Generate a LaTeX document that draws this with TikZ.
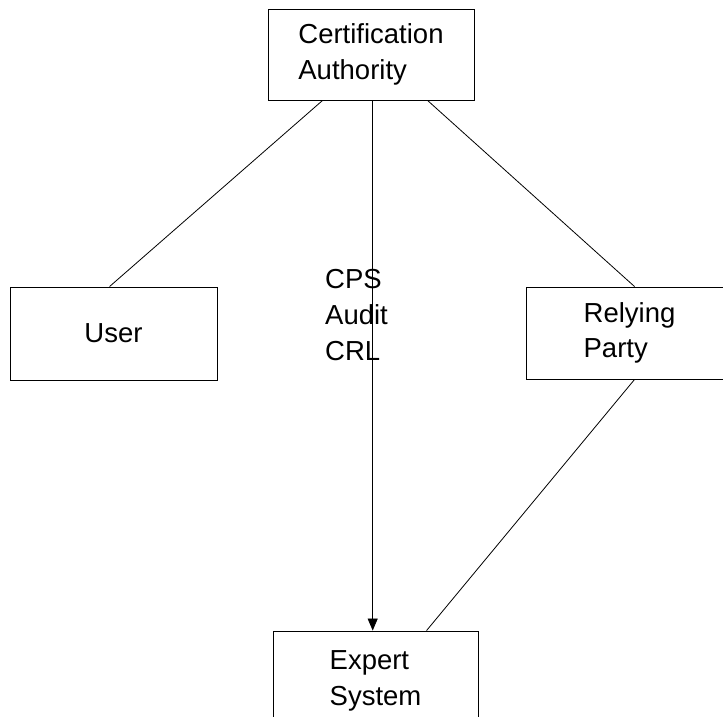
\documentclass[tikz,border=0pt]{standalone}
\usepackage{fontspec}
\setmainfont{Liberation Sans}
\usetikzlibrary{arrows.meta}
\begin{document}
\begin{tikzpicture}[x=1pt,y=-1pt,
  entity/.style={draw=black, line width=0.9pt, rectangle, inner sep=0pt,
    align=left, font=\fontsize{27.5}{35.5}\selectfont},
  link/.style={draw=black, line width=0.8pt},
  label/.style={align=left, font=\fontsize{27.5}{36}\selectfont, inner sep=0pt}]
  \useasboundingbox (0,0) rectangle (723,716);

  % boxes
  \node[entity, minimum width=206pt, minimum height=91pt] (ca) at (371,54.5)
    {Certification\\Authority};
  \node[entity, minimum width=207pt, minimum height=93pt] (user) at (113.5,333.5)
    {User};
  \node[entity, minimum width=207pt, minimum height=92pt] (rp) at (629.5,333)
    {Relying\\Party};
  \node[entity, minimum width=205pt, minimum height=100pt] (es) at (375.5,681)
    {Expert\\System};

  % plain links
  \draw[link] ([xshift=55pt]ca.south west) -- ([xshift=100pt]user.north west);
  \draw[link] ([xshift=160pt]ca.south west) -- ([xshift=109pt]rp.north west);
  \draw[link] ([xshift=109pt]rp.south west) -- ([xshift=154pt]es.north west);

  % directed flow of documents to the expert system
  \draw[link, -{Triangle[length=12pt,width=10pt]}]
    ([xshift=1.7pt]ca.south) -- ([xshift=1.7pt]ca.south |- es.north);

  % multi-line node: its base anchor sits on the last line
  \node[label, anchor=base west] (docs) at (325,360) {CPS\\Audit\\CRL};
\end{tikzpicture}
\end{document}
